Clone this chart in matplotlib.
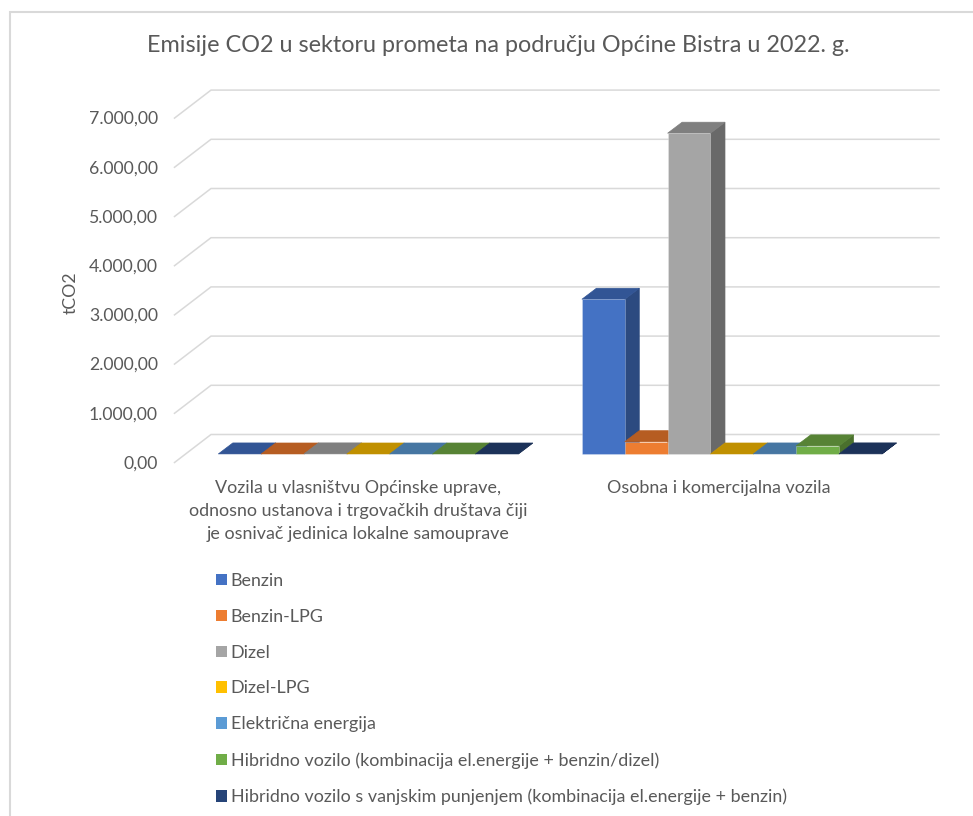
import matplotlib
matplotlib.use('Agg')
import matplotlib.pyplot as plt
from matplotlib.patches import Patch, Polygon, Rectangle

plt.rcParams['font.family'] = ['Lato', 'DejaVu Sans']

# ---------------- data ----------------
title = 'Emisije CO2 u sektoru prometa na području Općine Bistra u 2022. g.'
y_label = 'tCO2'
categories = ['Vozila u vlasništvu Općinske uprave,\nodnosno ustanova i trgovačkih društava čiji\nje osnivač jedinica lokalne samouprave',
              'Osobna i komercijalna vozila']
series = ['Benzin', 'Benzin-LPG', 'Dizel', 'Dizel-LPG', 'Električna energija',
          'Hibridno vozilo (kombinacija el.energije + benzin/dizel)',
          'Hibridno vozilo s vanjskim punjenjem (kombinacija el.energije + benzin)']
benzin = [1.0, 3145.0]
benzin_lpg = [0.0, 250.0]
dizel = [2.0, 6520.0]
dizel_lpg = [0.0, 0.0]
elektricna = [0.0, 1.0]
hibrid = [0.0, 165.0]
hibrid_plug = [0.0, 2.0]
y_ticks = [0, 1000, 2000, 3000, 4000, 5000, 6000, 7000]

front_cols = ['#4472C4', '#ED7D31', '#A5A5A5', '#FFC000', '#5B9BD5', '#70AD47', '#264478']
top_cols = ['#325595', '#B65D22', '#7F7F7F', '#C09000', '#4676A2', '#578335', '#1C3259']
side_cols = ['#2C4A80', '#9A4F1C', '#696969', '#A37A00', '#3B6489', '#4A702D', '#18294B']

# ---------------- layout, in pixels of the 973x816 picture ----------------
W, H = 973, 816
PX_PER_VALUE = 49.2 / 1000      # vertical scale
PX_PER_CAT = 363.6              # distance between the two groups
BAR_PX = 42.85
CAT0_X, BASE_Y = 368.3, 454     # centre of first group, foot of the bars
BAR_DEPTH = (14.5, 11)          # how far a bar goes back
WALL = (211, 434.5)             # where value 0 meets the back wall
FLOOR = (174.5, 462.5)          # front end of the value 0 line
GRID_END = 939
GRID_COL = '#D9D9D9'
TEXT_COL = '#595959'


def dx(px):
    return px / PX_PER_CAT


def dy(px):
    return px / PX_PER_VALUE


def xd(px):
    return (px - CAT0_X) / PX_PER_CAT


fig = plt.figure(figsize=(W / 100, H / 100), dpi=100)
ax = fig.add_axes([0, 0, 1, 1])
ax.set_xlim(xd(0), xd(W))
ax.set_ylim(dy(BASE_Y - H), dy(BASE_Y))
ax.axis('off')

# chart frame, runs off the picture on the right and at the bottom
ax.add_patch(Rectangle((10 / W, -0.1), 1.1, 1 - 12 / H + 0.1, transform=ax.transAxes,
                       fill=False, ec='#D9D9D9', lw=1.5, zorder=0))

# gridlines: slanted part on the floor/side wall, then along the back wall
wall_y0 = BASE_Y - WALL[1]
floor_y0 = BASE_Y - FLOOR[1]
for v in y_ticks:
    ax.plot([xd(FLOOR[0]), xd(WALL[0]), xd(GRID_END)],
            [v + dy(floor_y0), v + dy(wall_y0), v + dy(wall_y0)],
            color=GRID_COL, lw=1.1, zorder=1, solid_joinstyle='miter')
    ax.text(xd(158), v + dy(floor_y0 - 1), f'{v:,.2f}'.replace(',', 'X').replace('.', ',').replace('X', '.'),
            ha='right', va='center', color=TEXT_COL, fontsize=12.7)

# bars: front, side, top, drawn left to right so later ones cover earlier ones
values = [benzin, benzin_lpg, dizel, dizel_lpg, elektricna, hibrid, hibrid_plug]
bw = dx(BAR_PX)
ox, oy = dx(BAR_DEPTH[0]), dy(BAR_DEPTH[1])
n = len(series)
edge = {'lw': 0.5, 'zorder': 3, 'joinstyle': 'miter'}
for c in range(len(categories)):
    for s in range(n):
        v = values[s][c]
        x = c + (s - n / 2) * bw
        ax.add_patch(Polygon([(x + bw, 0), (x + bw + ox, oy), (x + bw + ox, v + oy), (x + bw, v)],
                             fc=side_cols[s], ec=side_cols[s], **edge))
        ax.add_patch(Polygon([(x, v), (x + ox, v + oy), (x + bw + ox, v + oy), (x + bw, v)],
                             fc=top_cols[s], ec=top_cols[s], **edge))
        ax.bar(x, v, bw, align='edge', color=front_cols[s], edgecolor=(1, 1, 1, 0.35), lw=0.5, zorder=3)

# texts
ax.text(xd(498), dy(BASE_Y - 46), title, ha='center', va='center', color=TEXT_COL, fontsize=16.8)
ax.text(xd(71), dy(BASE_Y - 293), y_label, ha='center', va='center', rotation=90,
        color=TEXT_COL, fontsize=12.7)
ax.text(xd(358), dy(BASE_Y - 511), categories[0], ha='center', va='center', color=TEXT_COL,
        fontsize=12.9, linespacing=1.5)
ax.text(xd(719), dy(BASE_Y - 488), categories[1], ha='center', va='center', color=TEXT_COL,
        fontsize=12.9)

handles = [Patch(fc=col, ec='none', label=lab) for col, lab in zip(front_cols, series)]
ax.legend(handles=handles, loc='upper left', bbox_to_anchor=(214 / W, 1 - 571 / H), frameon=False,
          fontsize=12.9, labelcolor=TEXT_COL, handlelength=0.61, handleheight=0.61,
          handletextpad=0.22, labelspacing=1.11, borderpad=0.1, borderaxespad=0)

fig.savefig('out.png', dpi=100)
